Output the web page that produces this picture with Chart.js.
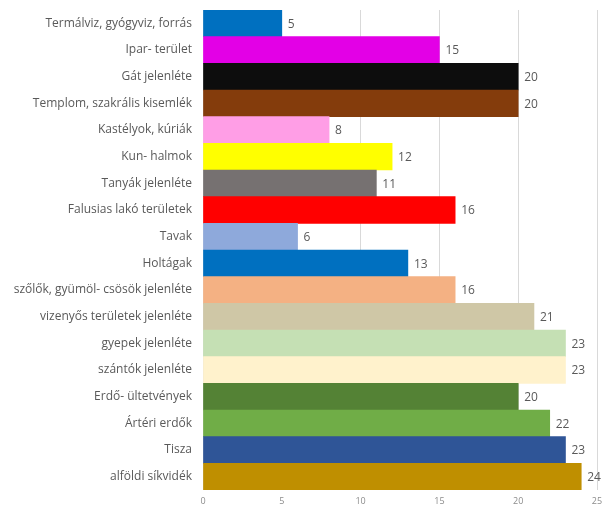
<!DOCTYPE html>
<html>
<head>
<meta charset="utf-8">
<script src="https://cdn.jsdelivr.net/npm/chart.js"></script>
<style>
    body { margin: 0; background: #fff; }
    #wrap { width: 602px; height: 508px; position: relative; }
</style>
</head>
<body>
<div id="wrap"><canvas id="barChart"></canvas></div>
<script>
// categories, top to bottom
const categories = [
    'Termálviz, gyógyviz, forrás',
    'Ipar- terület',
    'Gát jelenléte',
    'Templom, szakrális kisemlék',
    'Kastélyok, kúriák',
    'Kun- halmok',
    'Tanyák jelenléte',
    'Falusias lakó területek',
    'Tavak',
    'Holtágak',
    'szőlők, gyümöl- csösök jelenléte',
    'vizenyős területek jelenléte',
    'gyepek jelenléte',
    'szántók jelenléte',
    'Erdő- ültetvények',
    'Ártéri erdők',
    'Tisza',
    'alföldi síkvidék'
];
const values = [5, 15, 20, 20, 8, 12, 11, 16, 6, 13, 16, 21, 23, 23, 20, 22, 23, 24];
const barColors = [
    '#0070C0', '#E300E6', '#0D0D0D', '#843C0C', '#FF9EE6', '#FFFF00',
    '#767171', '#FF0000', '#8EA9DB', '#0070C0', '#F4B183', '#CFC7A6',
    '#C5E0B4', '#FFF2CC', '#548235', '#70AD47', '#2F5597', '#BF8F00'
];
const xTicks = [0, 5, 10, 15, 20, 25];

const FONT = "'Open Sans', 'Liberation Sans', sans-serif";

// simple value labels at the end of each bar
const valueLabels = {
    id: 'valueLabels',
    afterDatasetsDraw(chart) {
        const ctx = chart.ctx;
        const meta = chart.getDatasetMeta(0);
        ctx.save();
        ctx.font = '12px ' + FONT;
        ctx.fillStyle = '#595959';
        ctx.textAlign = 'left';
        ctx.textBaseline = 'middle';
        meta.data.forEach((bar, i) => {
            ctx.fillText(String(values[i]), bar.x + 6, bar.y + 1);
        });
        ctx.restore();
    }
};

new Chart(document.getElementById('barChart'), {
    type: 'bar',
    data: {
        labels: categories,
        datasets: [{
            data: values,
            backgroundColor: barColors,
            borderWidth: 0,
            categoryPercentage: 1,
            barPercentage: 1
        }]
    },
    options: {
        indexAxis: 'y',
        responsive: true,
        maintainAspectRatio: false,
        animation: false,
        layout: { padding: { top: 10, right: 0, left: 0, bottom: 0 } },
        plugins: {
            legend: { display: false },
            tooltip: { enabled: false }
        },
        scales: {
            x: {
                min: 0,
                max: 25,
                afterBuildTicks: (axis) => {
                    axis.ticks = xTicks.map(v => ({ value: v }));
                },
                afterFit: (axis) => {
                    axis.height = 18;
                    axis.paddingLeft = 0;
                    axis.paddingRight = 5;
                },
                grid: { color: '#D9D9D9', drawTicks: false },
                border: { display: false },
                ticks: {
                    color: '#8C8C8C',
                    font: { family: FONT, size: 9 },
                    padding: 6
                }
            },
            y: {
                afterFit: (axis) => {
                    axis.width = 203;
                    axis.paddingTop = 0;
                    axis.paddingBottom = 0;
                },
                grid: { display: false, drawTicks: false },
                border: { display: false },
                ticks: {
                    color: '#595959',
                    font: { family: FONT, size: 12 },
                    padding: 11,
                    autoSkip: false
                }
            }
        }
    },
    plugins: [valueLabels]
});
</script>
</body>
</html>
